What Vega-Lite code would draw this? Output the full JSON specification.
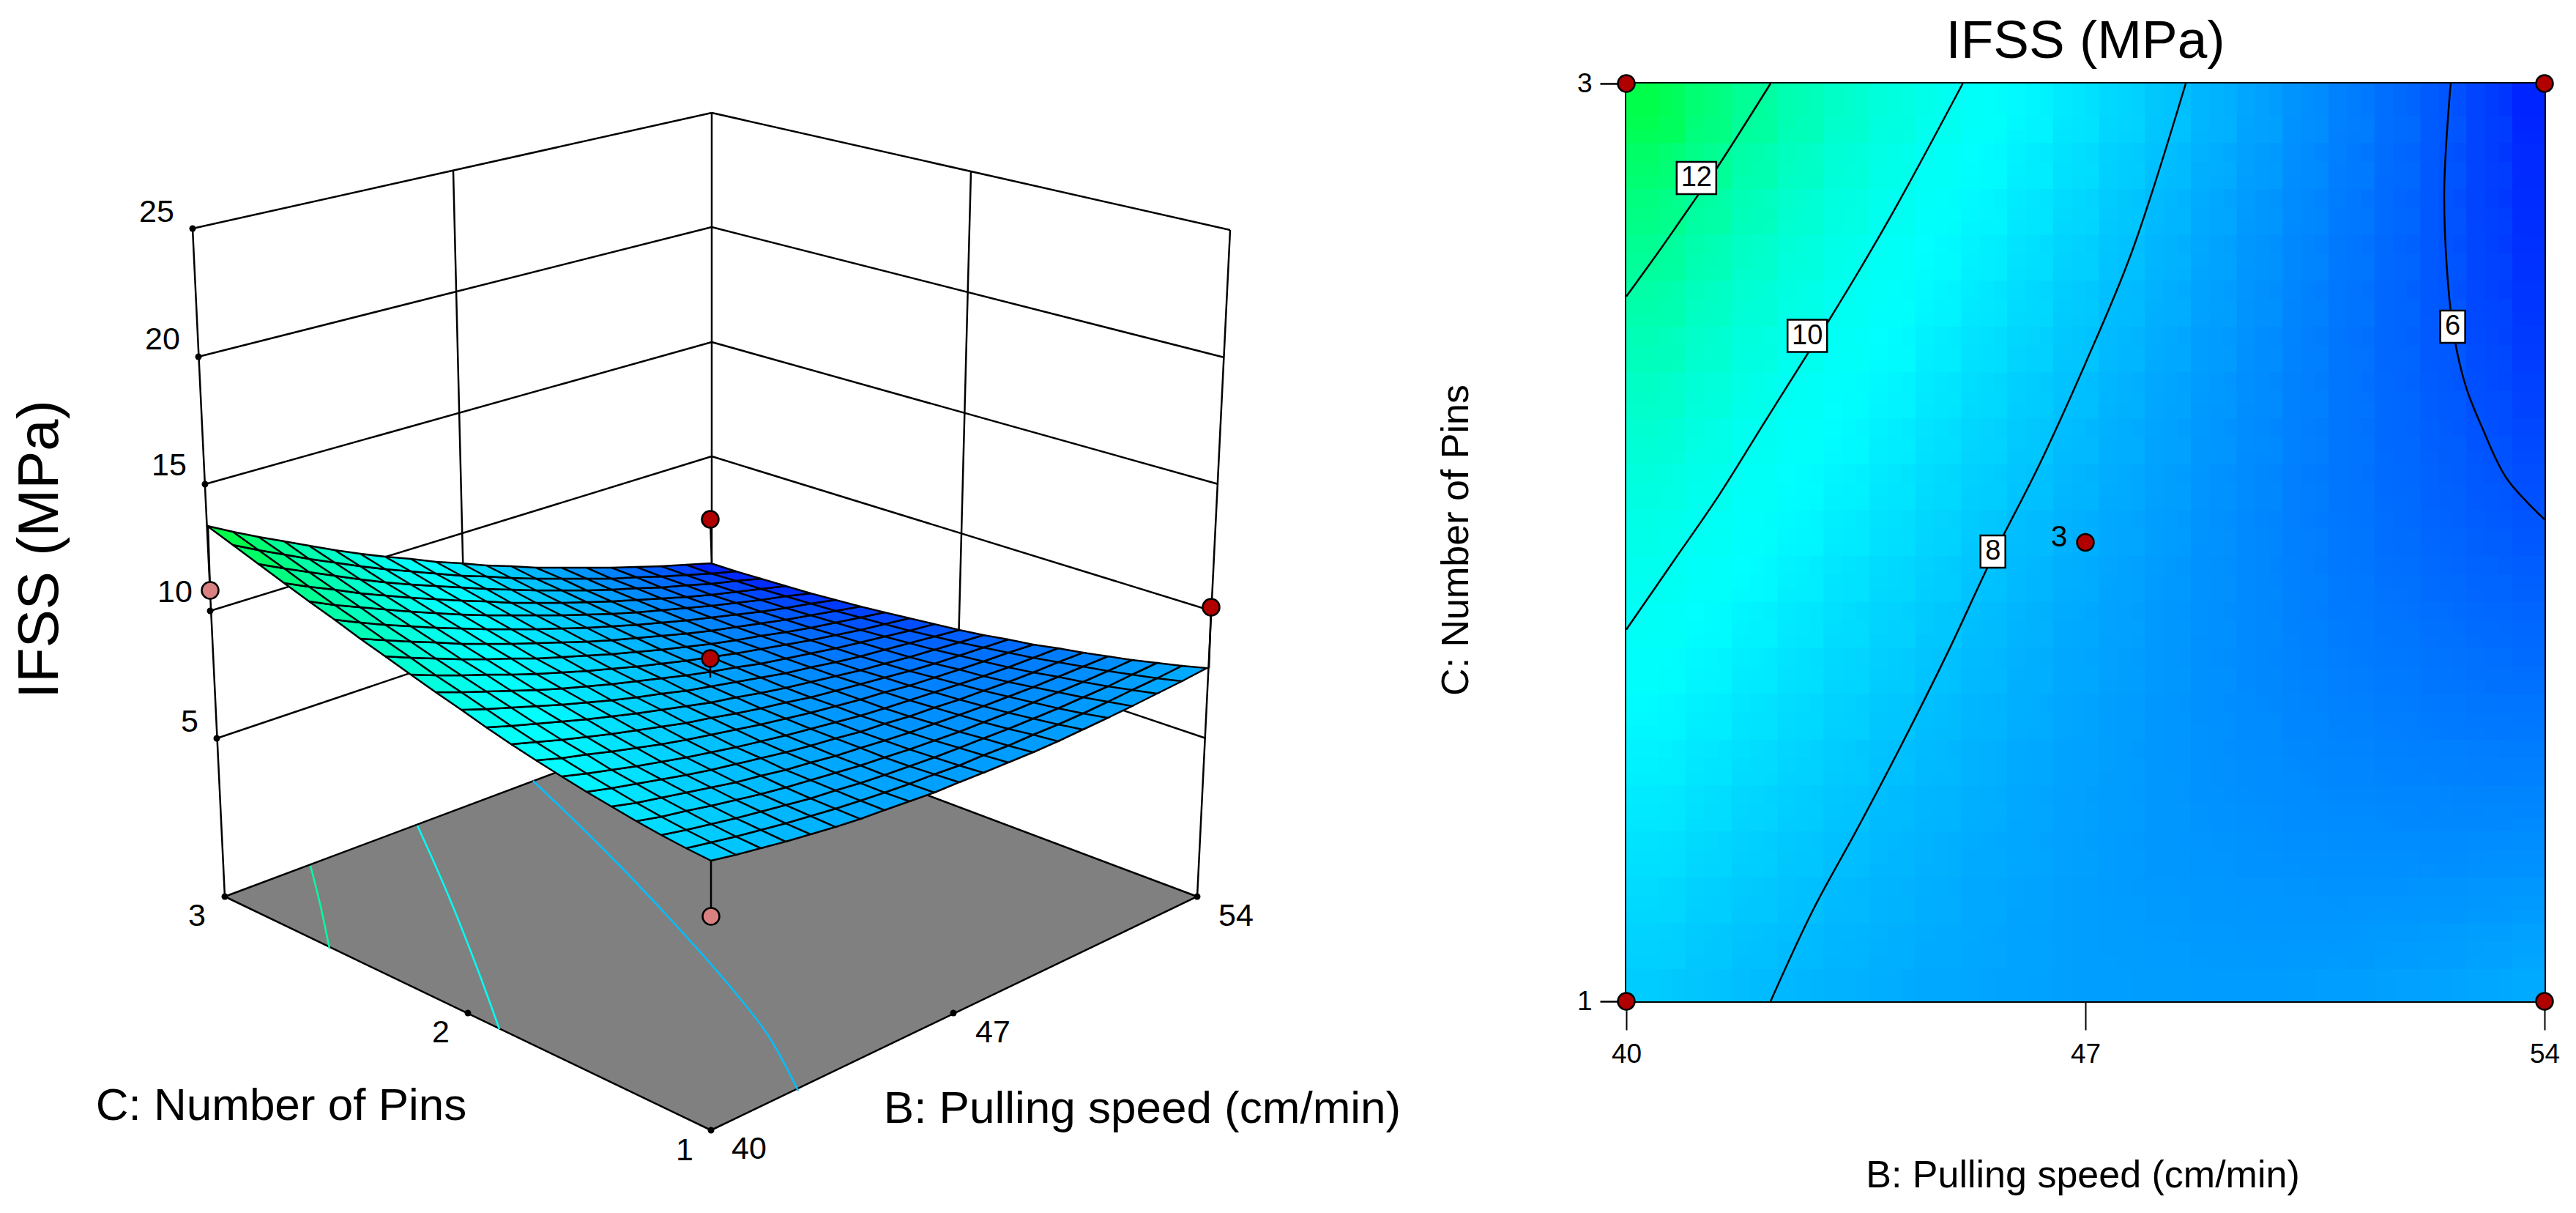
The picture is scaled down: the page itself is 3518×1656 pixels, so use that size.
{"$schema":"https://vega.github.io/schema/vega-lite/v6.json","background":"white","padding":0,"bounds":"flush","spacing":221,
"config":{"font":"Liberation Sans","view":{"stroke":null}},
"datasets":{"cells":[
{"b":53.65,"c":1.05,"v":7.55,"x":[1614,1648,1614,1580],"y":[930,912,909,926]},
{"b":53.65,"c":1.15,"v":7.36,"x":[1580,1614,1580,1546],"y":[926,909,905,921]},
{"b":53.65,"c":1.25,"v":7.17,"x":[1546,1580,1546,1513],"y":[921,905,901,916]},
{"b":53.65,"c":1.35,"v":7.0,"x":[1513,1546,1513,1479],"y":[916,901,896,910]},
{"b":53.65,"c":1.45,"v":6.83,"x":[1479,1513,1479,1445],"y":[910,896,891,904]},
{"b":53.65,"c":1.55,"v":6.68,"x":[1445,1479,1445,1411],"y":[904,891,885,898]},
{"b":53.65,"c":1.65,"v":6.53,"x":[1411,1445,1411,1377],"y":[898,885,880,891]},
{"b":53.65,"c":1.75,"v":6.39,"x":[1377,1411,1377,1343],"y":[891,880,873,884]},
{"b":53.65,"c":1.85,"v":6.27,"x":[1343,1377,1343,1310],"y":[884,873,867,877]},
{"b":53.65,"c":1.95,"v":6.15,"x":[1310,1343,1310,1276],"y":[877,867,860,869]},
{"b":53.65,"c":2.05,"v":6.05,"x":[1276,1310,1276,1242],"y":[869,860,852,861]},
{"b":53.65,"c":2.15,"v":5.95,"x":[1242,1276,1242,1208],"y":[861,852,844,852]},
{"b":53.65,"c":2.25,"v":5.87,"x":[1208,1242,1208,1175],"y":[852,844,836,843]},
{"b":53.65,"c":2.35,"v":5.79,"x":[1175,1208,1175,1141],"y":[843,836,828,834]},
{"b":53.65,"c":2.45,"v":5.72,"x":[1141,1175,1141,1107],"y":[834,828,819,824]},
{"b":53.65,"c":2.55,"v":5.67,"x":[1107,1141,1107,1073],"y":[824,819,810,814]},
{"b":53.65,"c":2.65,"v":5.63,"x":[1073,1107,1073,1039],"y":[814,810,800,804]},
{"b":53.65,"c":2.75,"v":5.6,"x":[1039,1073,1039,1005],"y":[804,800,790,793]},
{"b":53.65,"c":2.85,"v":5.58,"x":[1005,1039,1005,971],"y":[793,790,780,783]},
{"b":53.65,"c":2.95,"v":5.54,"x":[971,1005,971,937],"y":[783,780,769,771]},
{"b":52.95,"c":1.05,"v":7.47,"x":[1580,1614,1580,1546],"y":[947,930,926,942]},
{"b":52.95,"c":1.15,"v":7.3,"x":[1546,1580,1546,1513],"y":[942,926,921,937]},
{"b":52.95,"c":1.25,"v":7.13,"x":[1513,1546,1513,1479],"y":[937,921,916,931]},
{"b":52.95,"c":1.35,"v":6.97,"x":[1479,1513,1479,1445],"y":[931,916,910,924]},
{"b":52.95,"c":1.45,"v":6.83,"x":[1445,1479,1445,1411],"y":[924,910,904,918]},
{"b":52.95,"c":1.55,"v":6.69,"x":[1411,1445,1411,1377],"y":[918,904,898,911]},
{"b":52.95,"c":1.65,"v":6.56,"x":[1377,1411,1377,1343],"y":[911,898,891,903]},
{"b":52.95,"c":1.75,"v":6.45,"x":[1343,1377,1343,1310],"y":[903,891,884,895]},
{"b":52.95,"c":1.85,"v":6.34,"x":[1310,1343,1310,1276],"y":[895,884,877,887]},
{"b":52.95,"c":1.95,"v":6.24,"x":[1276,1310,1276,1242],"y":[887,877,869,878]},
{"b":52.95,"c":2.05,"v":6.16,"x":[1242,1276,1242,1208],"y":[878,869,861,869]},
{"b":52.95,"c":2.15,"v":6.08,"x":[1208,1242,1208,1175],"y":[869,861,852,860]},
{"b":52.95,"c":2.25,"v":6.01,"x":[1175,1208,1175,1141],"y":[860,852,843,850]},
{"b":52.95,"c":2.35,"v":5.96,"x":[1141,1175,1141,1107],"y":[850,843,834,840]},
{"b":52.95,"c":2.45,"v":5.91,"x":[1107,1141,1107,1073],"y":[840,834,824,830]},
{"b":52.95,"c":2.55,"v":5.87,"x":[1073,1107,1073,1039],"y":[830,824,814,819]},
{"b":52.95,"c":2.65,"v":5.85,"x":[1039,1073,1039,1005],"y":[819,814,804,808]},
{"b":52.95,"c":2.75,"v":5.83,"x":[1005,1039,1005,971],"y":[808,804,793,797]},
{"b":52.95,"c":2.85,"v":5.83,"x":[971,1005,971,937],"y":[797,793,783,785]},
{"b":52.95,"c":2.95,"v":5.83,"x":[937,971,937,903],"y":[785,783,771,773]},
{"b":52.25,"c":1.05,"v":7.41,"x":[1546,1580,1546,1513],"y":[964,947,942,958]},
{"b":52.25,"c":1.15,"v":7.25,"x":[1513,1546,1513,1479],"y":[958,942,937,952]},
{"b":52.25,"c":1.25,"v":7.1,"x":[1479,1513,1479,1445],"y":[952,937,931,945]},
{"b":52.25,"c":1.35,"v":6.96,"x":[1445,1479,1445,1411],"y":[945,931,924,938]},
{"b":52.25,"c":1.45,"v":6.84,"x":[1411,1445,1411,1377],"y":[938,924,918,931]},
{"b":52.25,"c":1.55,"v":6.72,"x":[1377,1411,1377,1343],"y":[931,918,911,923]},
{"b":52.25,"c":1.65,"v":6.61,"x":[1343,1377,1343,1310],"y":[923,911,903,914]},
{"b":52.25,"c":1.75,"v":6.52,"x":[1310,1343,1310,1276],"y":[914,903,895,906]},
{"b":52.25,"c":1.85,"v":6.43,"x":[1276,1310,1276,1242],"y":[906,895,887,897]},
{"b":52.25,"c":1.95,"v":6.35,"x":[1242,1276,1242,1208],"y":[897,887,878,887]},
{"b":52.25,"c":2.05,"v":6.28,"x":[1208,1242,1208,1175],"y":[887,878,869,877]},
{"b":52.25,"c":2.15,"v":6.23,"x":[1175,1208,1175,1141],"y":[877,869,860,867]},
{"b":52.25,"c":2.25,"v":6.18,"x":[1141,1175,1141,1107],"y":[867,860,850,857]},
{"b":52.25,"c":2.35,"v":6.14,"x":[1107,1141,1107,1073],"y":[857,850,840,846]},
{"b":52.25,"c":2.45,"v":6.11,"x":[1073,1107,1073,1039],"y":[846,840,830,835]},
{"b":52.25,"c":2.55,"v":6.1,"x":[1039,1073,1039,1005],"y":[835,830,819,823]},
{"b":52.25,"c":2.65,"v":6.09,"x":[1005,1039,1005,971],"y":[823,819,808,812]},
{"b":52.25,"c":2.75,"v":6.09,"x":[971,1005,971,937],"y":[812,808,797,799]},
{"b":52.25,"c":2.85,"v":6.11,"x":[937,971,937,903],"y":[799,797,785,787]},
{"b":52.25,"c":2.95,"v":6.13,"x":[903,937,903,869],"y":[787,785,773,774]},
{"b":51.55,"c":1.05,"v":7.35,"x":[1513,1546,1513,1479],"y":[980,964,958,974]},
{"b":51.55,"c":1.15,"v":7.22,"x":[1479,1513,1479,1445],"y":[974,958,952,967]},
{"b":51.55,"c":1.25,"v":7.09,"x":[1445,1479,1445,1411],"y":[967,952,945,959]},
{"b":51.55,"c":1.35,"v":6.97,"x":[1411,1445,1411,1377],"y":[959,945,938,951]},
{"b":51.55,"c":1.45,"v":6.86,"x":[1377,1411,1377,1343],"y":[951,938,931,943]},
{"b":51.55,"c":1.55,"v":6.76,"x":[1343,1377,1343,1310],"y":[943,931,923,934]},
{"b":51.55,"c":1.65,"v":6.68,"x":[1310,1343,1310,1276],"y":[934,923,914,925]},
{"b":51.55,"c":1.75,"v":6.6,"x":[1276,1310,1276,1242],"y":[925,914,906,916]},
{"b":51.55,"c":1.85,"v":6.53,"x":[1242,1276,1242,1208],"y":[916,906,897,906]},
{"b":51.55,"c":1.95,"v":6.47,"x":[1208,1242,1208,1175],"y":[906,897,887,896]},
{"b":51.55,"c":2.05,"v":6.42,"x":[1175,1208,1175,1141],"y":[896,887,877,885]},
{"b":51.55,"c":2.15,"v":6.39,"x":[1141,1175,1141,1107],"y":[885,877,867,874]},
{"b":51.55,"c":2.25,"v":6.36,"x":[1107,1141,1107,1073],"y":[874,867,857,863]},
{"b":51.55,"c":2.35,"v":6.34,"x":[1073,1107,1073,1039],"y":[863,857,846,851]},
{"b":51.55,"c":2.45,"v":6.33,"x":[1039,1073,1039,1005],"y":[851,846,835,839]},
{"b":51.55,"c":2.55,"v":6.33,"x":[1005,1039,1005,971],"y":[839,835,823,827]},
{"b":51.55,"c":2.65,"v":6.35,"x":[971,1005,971,937],"y":[827,823,812,815]},
{"b":51.55,"c":2.75,"v":6.37,"x":[937,971,937,903],"y":[815,812,799,802]},
{"b":51.55,"c":2.85,"v":6.4,"x":[903,937,903,869],"y":[802,799,787,788]},
{"b":51.55,"c":2.95,"v":6.44,"x":[869,903,869,835],"y":[788,787,774,775]},
{"b":50.85,"c":1.05,"v":7.31,"x":[1479,1513,1479,1445],"y":[996,980,974,989]},
{"b":50.85,"c":1.15,"v":7.19,"x":[1445,1479,1445,1411],"y":[989,974,967,981]},
{"b":50.85,"c":1.25,"v":7.09,"x":[1411,1445,1411,1377],"y":[981,967,959,973]},
{"b":50.85,"c":1.35,"v":6.99,"x":[1377,1411,1377,1343],"y":[973,959,951,964]},
{"b":50.85,"c":1.45,"v":6.9,"x":[1343,1377,1343,1310],"y":[964,951,943,955]},
{"b":50.85,"c":1.55,"v":6.82,"x":[1310,1343,1310,1276],"y":[955,943,934,945]},
{"b":50.85,"c":1.65,"v":6.75,"x":[1276,1310,1276,1242],"y":[945,934,925,936]},
{"b":50.85,"c":1.75,"v":6.69,"x":[1242,1276,1242,1208],"y":[936,925,916,925]},
{"b":50.85,"c":1.85,"v":6.64,"x":[1208,1242,1208,1175],"y":[925,916,906,915]},
{"b":50.85,"c":1.95,"v":6.6,"x":[1175,1208,1175,1141],"y":[915,906,896,904]},
{"b":50.85,"c":2.05,"v":6.58,"x":[1141,1175,1141,1107],"y":[904,896,885,892]},
{"b":50.85,"c":2.15,"v":6.56,"x":[1107,1141,1107,1073],"y":[892,885,874,880]},
{"b":50.85,"c":2.25,"v":6.55,"x":[1073,1107,1073,1039],"y":[880,874,863,868]},
{"b":50.85,"c":2.35,"v":6.55,"x":[1039,1073,1039,1005],"y":[868,863,851,856]},
{"b":50.85,"c":2.45,"v":6.56,"x":[1005,1039,1005,971],"y":[856,851,839,843]},
{"b":50.85,"c":2.55,"v":6.58,"x":[971,1005,971,937],"y":[843,839,827,830]},
{"b":50.85,"c":2.65,"v":6.61,"x":[937,971,937,903],"y":[830,827,815,817]},
{"b":50.85,"c":2.75,"v":6.66,"x":[903,937,903,869],"y":[817,815,802,803]},
{"b":50.85,"c":2.85,"v":6.71,"x":[869,903,869,835],"y":[803,802,788,790]},
{"b":50.85,"c":2.95,"v":6.77,"x":[835,869,835,801],"y":[790,788,775,775]},
{"b":50.15,"c":1.05,"v":7.29,"x":[1445,1479,1445,1411],"y":[1012,996,989,1003]},
{"b":50.15,"c":1.15,"v":7.19,"x":[1411,1445,1411,1377],"y":[1003,989,981,995]},
{"b":50.15,"c":1.25,"v":7.1,"x":[1377,1411,1377,1343],"y":[995,981,973,986]},
{"b":50.15,"c":1.35,"v":7.02,"x":[1343,1377,1343,1310],"y":[986,973,964,976]},
{"b":50.15,"c":1.45,"v":6.95,"x":[1310,1343,1310,1276],"y":[976,964,955,966]},
{"b":50.15,"c":1.55,"v":6.89,"x":[1276,1310,1276,1242],"y":[966,955,945,956]},
{"b":50.15,"c":1.65,"v":6.84,"x":[1242,1276,1242,1208],"y":[956,945,936,945]},
{"b":50.15,"c":1.75,"v":6.8,"x":[1208,1242,1208,1175],"y":[945,936,925,934]},
{"b":50.15,"c":1.85,"v":6.77,"x":[1175,1208,1175,1141],"y":[934,925,915,923]},
{"b":50.15,"c":1.95,"v":6.75,"x":[1141,1175,1141,1107],"y":[923,915,904,911]},
{"b":50.15,"c":2.05,"v":6.74,"x":[1107,1141,1107,1073],"y":[911,904,892,899]},
{"b":50.15,"c":2.15,"v":6.74,"x":[1073,1107,1073,1039],"y":[899,892,880,886]},
{"b":50.15,"c":2.25,"v":6.75,"x":[1039,1073,1039,1005],"y":[886,880,868,874]},
{"b":50.15,"c":2.35,"v":6.77,"x":[1005,1039,1005,971],"y":[874,868,856,861]},
{"b":50.15,"c":2.45,"v":6.8,"x":[971,1005,971,937],"y":[861,856,843,847]},
{"b":50.15,"c":2.55,"v":6.84,"x":[937,971,937,903],"y":[847,843,830,833]},
{"b":50.15,"c":2.65,"v":6.89,"x":[903,937,903,869],"y":[833,830,817,819]},
{"b":50.15,"c":2.75,"v":6.96,"x":[869,903,869,835],"y":[819,817,803,805]},
{"b":50.15,"c":2.85,"v":7.03,"x":[835,869,835,801],"y":[805,803,790,790]},
{"b":50.15,"c":2.95,"v":7.11,"x":[801,835,801,767],"y":[790,790,775,775]},
{"b":49.45,"c":1.05,"v":7.27,"x":[1411,1445,1411,1377],"y":[1027,1012,1003,1018]},
{"b":49.45,"c":1.15,"v":7.19,"x":[1377,1411,1377,1343],"y":[1018,1003,995,1008]},
{"b":49.45,"c":1.25,"v":7.12,"x":[1343,1377,1343,1310],"y":[1008,995,986,999]},
{"b":49.45,"c":1.35,"v":7.06,"x":[1310,1343,1310,1276],"y":[999,986,976,988]},
{"b":49.45,"c":1.45,"v":7.01,"x":[1276,1310,1276,1242],"y":[988,976,966,978]},
{"b":49.45,"c":1.55,"v":6.97,"x":[1242,1276,1242,1208],"y":[978,966,956,967]},
{"b":49.45,"c":1.65,"v":6.94,"x":[1208,1242,1208,1175],"y":[967,956,945,955]},
{"b":49.45,"c":1.75,"v":6.92,"x":[1175,1208,1175,1141],"y":[955,945,934,943]},
{"b":49.45,"c":1.85,"v":6.91,"x":[1141,1175,1141,1107],"y":[943,934,923,931]},
{"b":49.45,"c":1.95,"v":6.91,"x":[1107,1141,1107,1073],"y":[931,923,911,919]},
{"b":49.45,"c":2.05,"v":6.92,"x":[1073,1107,1073,1039],"y":[919,911,899,906]},
{"b":49.45,"c":2.15,"v":6.94,"x":[1039,1073,1039,1005],"y":[906,899,886,892]},
{"b":49.45,"c":2.25,"v":6.97,"x":[1005,1039,1005,971],"y":[892,886,874,879]},
{"b":49.45,"c":2.35,"v":7.01,"x":[971,1005,971,937],"y":[879,874,861,865]},
{"b":49.45,"c":2.45,"v":7.06,"x":[937,971,937,903],"y":[865,861,847,850]},
{"b":49.45,"c":2.55,"v":7.12,"x":[903,937,903,869],"y":[850,847,833,836]},
{"b":49.45,"c":2.65,"v":7.19,"x":[869,903,869,835],"y":[836,833,819,821]},
{"b":49.45,"c":2.75,"v":7.27,"x":[835,869,835,801],"y":[821,819,805,806]},
{"b":49.45,"c":2.85,"v":7.36,"x":[801,835,801,767],"y":[806,805,790,790]},
{"b":49.45,"c":2.95,"v":7.46,"x":[767,801,767,732],"y":[790,790,775,775]},
{"b":48.75,"c":1.05,"v":7.27,"x":[1377,1411,1377,1343],"y":[1041,1027,1018,1031]},
{"b":48.75,"c":1.15,"v":7.21,"x":[1343,1377,1343,1310],"y":[1031,1018,1008,1021]},
{"b":48.75,"c":1.25,"v":7.16,"x":[1310,1343,1310,1276],"y":[1021,1008,999,1011]},
{"b":48.75,"c":1.35,"v":7.12,"x":[1276,1310,1276,1242],"y":[1011,999,988,1000]},
{"b":48.75,"c":1.45,"v":7.09,"x":[1242,1276,1242,1208],"y":[1000,988,978,988]},
{"b":48.75,"c":1.55,"v":7.07,"x":[1208,1242,1208,1175],"y":[988,978,967,977]},
{"b":48.75,"c":1.65,"v":7.05,"x":[1175,1208,1175,1141],"y":[977,967,955,964]},
{"b":48.75,"c":1.75,"v":7.05,"x":[1141,1175,1141,1107],"y":[964,955,943,952]},
{"b":48.75,"c":1.85,"v":7.06,"x":[1107,1141,1107,1073],"y":[952,943,931,939]},
{"b":48.75,"c":1.95,"v":7.08,"x":[1073,1107,1073,1039],"y":[939,931,919,925]},
{"b":48.75,"c":2.05,"v":7.11,"x":[1039,1073,1039,1005],"y":[925,919,906,911]},
{"b":48.75,"c":2.15,"v":7.15,"x":[1005,1039,1005,971],"y":[911,906,892,897]},
{"b":48.75,"c":2.25,"v":7.2,"x":[971,1005,971,937],"y":[897,892,879,883]},
{"b":48.75,"c":2.35,"v":7.26,"x":[937,971,937,903],"y":[883,879,865,868]},
{"b":48.75,"c":2.45,"v":7.33,"x":[903,937,903,869],"y":[868,865,850,853]},
{"b":48.75,"c":2.55,"v":7.41,"x":[869,903,869,835],"y":[853,850,836,838]},
{"b":48.75,"c":2.65,"v":7.5,"x":[835,869,835,801],"y":[838,836,821,822]},
{"b":48.75,"c":2.75,"v":7.6,"x":[801,835,801,767],"y":[822,821,806,806]},
{"b":48.75,"c":2.85,"v":7.71,"x":[767,801,767,732],"y":[806,806,790,790]},
{"b":48.75,"c":2.95,"v":7.82,"x":[732,767,732,698],"y":[790,790,775,773]},
{"b":48.05,"c":1.05,"v":7.28,"x":[1343,1377,1343,1310],"y":[1055,1041,1031,1045]},
{"b":48.05,"c":1.15,"v":7.24,"x":[1310,1343,1310,1276],"y":[1045,1031,1021,1034]},
{"b":48.05,"c":1.25,"v":7.21,"x":[1276,1310,1276,1242],"y":[1034,1021,1011,1023]},
{"b":48.05,"c":1.35,"v":7.19,"x":[1242,1276,1242,1208],"y":[1023,1011,1000,1011]},
{"b":48.05,"c":1.45,"v":7.18,"x":[1208,1242,1208,1175],"y":[1011,1000,988,999]},
{"b":48.05,"c":1.55,"v":7.17,"x":[1175,1208,1175,1141],"y":[999,988,977,986]},
{"b":48.05,"c":1.65,"v":7.18,"x":[1141,1175,1141,1107],"y":[986,977,964,973]},
{"b":48.05,"c":1.75,"v":7.2,"x":[1107,1141,1107,1073],"y":[973,964,952,959]},
{"b":48.05,"c":1.85,"v":7.23,"x":[1073,1107,1073,1039],"y":[959,952,939,946]},
{"b":48.05,"c":1.95,"v":7.27,"x":[1039,1073,1039,1005],"y":[946,939,925,931]},
{"b":48.05,"c":2.05,"v":7.32,"x":[1005,1039,1005,971],"y":[931,925,911,917]},
{"b":48.05,"c":2.15,"v":7.38,"x":[971,1005,971,937],"y":[917,911,897,902]},
{"b":48.05,"c":2.25,"v":7.44,"x":[937,971,937,903],"y":[902,897,883,887]},
{"b":48.05,"c":2.35,"v":7.52,"x":[903,937,903,869],"y":[887,883,868,871]},
{"b":48.05,"c":2.45,"v":7.61,"x":[869,903,869,835],"y":[871,868,853,855]},
{"b":48.05,"c":2.55,"v":7.71,"x":[835,869,835,801],"y":[855,853,838,839]},
{"b":48.05,"c":2.65,"v":7.82,"x":[801,835,801,767],"y":[839,838,822,823]},
{"b":48.05,"c":2.75,"v":7.94,"x":[767,801,767,732],"y":[823,822,806,806]},
{"b":48.05,"c":2.85,"v":8.07,"x":[732,767,732,698],"y":[806,806,790,789]},
{"b":48.05,"c":2.95,"v":8.2,"x":[698,732,698,664],"y":[789,790,773,772]},
{"b":47.35,"c":1.05,"v":7.31,"x":[1310,1343,1310,1276],"y":[1068,1055,1045,1057]},
{"b":47.35,"c":1.15,"v":7.29,"x":[1276,1310,1276,1242],"y":[1057,1045,1034,1046]},
{"b":47.35,"c":1.25,"v":7.27,"x":[1242,1276,1242,1208],"y":[1046,1034,1023,1034]},
{"b":47.35,"c":1.35,"v":7.27,"x":[1208,1242,1208,1175],"y":[1034,1023,1011,1021]},
{"b":47.35,"c":1.45,"v":7.28,"x":[1175,1208,1175,1141],"y":[1021,1011,999,1008]},
{"b":47.35,"c":1.55,"v":7.3,"x":[1141,1175,1141,1107],"y":[1008,999,986,995]},
{"b":47.35,"c":1.65,"v":7.32,"x":[1107,1141,1107,1073],"y":[995,986,973,981]},
{"b":47.35,"c":1.75,"v":7.36,"x":[1073,1107,1073,1039],"y":[981,973,959,967]},
{"b":47.35,"c":1.85,"v":7.41,"x":[1039,1073,1039,1005],"y":[967,959,946,952]},
{"b":47.35,"c":1.95,"v":7.47,"x":[1005,1039,1005,971],"y":[952,946,931,937]},
{"b":47.35,"c":2.05,"v":7.54,"x":[971,1005,971,937],"y":[937,931,917,922]},
{"b":47.35,"c":2.15,"v":7.61,"x":[937,971,937,903],"y":[922,917,902,906]},
{"b":47.35,"c":2.25,"v":7.7,"x":[903,937,903,869],"y":[906,902,887,890]},
{"b":47.35,"c":2.35,"v":7.8,"x":[869,903,869,835],"y":[890,887,871,874]},
{"b":47.35,"c":2.45,"v":7.91,"x":[835,869,835,801],"y":[874,871,855,857]},
{"b":47.35,"c":2.55,"v":8.03,"x":[801,835,801,767],"y":[857,855,839,840]},
{"b":47.35,"c":2.65,"v":8.15,"x":[767,801,767,732],"y":[840,839,823,823]},
{"b":47.35,"c":2.75,"v":8.29,"x":[732,767,732,698],"y":[823,823,806,805]},
{"b":47.35,"c":2.85,"v":8.44,"x":[698,732,698,664],"y":[805,806,789,787]},
{"b":47.35,"c":2.95,"v":8.6,"x":[664,698,664,630],"y":[787,789,772,769]},
{"b":46.65,"c":1.05,"v":7.35,"x":[1276,1310,1276,1242],"y":[1082,1068,1057,1070]},
{"b":46.65,"c":1.15,"v":7.34,"x":[1242,1276,1242,1208],"y":[1070,1057,1046,1058]},
{"b":46.65,"c":1.25,"v":7.35,"x":[1208,1242,1208,1175],"y":[1058,1046,1034,1045]},
{"b":46.65,"c":1.35,"v":7.37,"x":[1175,1208,1175,1141],"y":[1045,1034,1021,1032]},
{"b":46.65,"c":1.45,"v":7.39,"x":[1141,1175,1141,1107],"y":[1032,1021,1008,1018]},
{"b":46.65,"c":1.55,"v":7.43,"x":[1107,1141,1107,1073],"y":[1018,1008,995,1004]},
{"b":46.65,"c":1.65,"v":7.48,"x":[1073,1107,1073,1039],"y":[1004,995,981,989]},
{"b":46.65,"c":1.75,"v":7.54,"x":[1039,1073,1039,1005],"y":[989,981,967,974]},
{"b":46.65,"c":1.85,"v":7.6,"x":[1005,1039,1005,971],"y":[974,967,952,959]},
{"b":46.65,"c":1.95,"v":7.68,"x":[971,1005,971,937],"y":[959,952,937,943]},
{"b":46.65,"c":2.05,"v":7.77,"x":[937,971,937,903],"y":[943,937,922,926]},
{"b":46.65,"c":2.15,"v":7.87,"x":[903,937,903,869],"y":[926,922,906,910]},
{"b":46.65,"c":2.25,"v":7.97,"x":[869,903,869,835],"y":[910,906,890,893]},
{"b":46.65,"c":2.35,"v":8.09,"x":[835,869,835,801],"y":[893,890,874,876]},
{"b":46.65,"c":2.45,"v":8.22,"x":[801,835,801,767],"y":[876,874,857,858]},
{"b":46.65,"c":2.55,"v":8.35,"x":[767,801,767,732],"y":[858,857,840,840]},
{"b":46.65,"c":2.65,"v":8.5,"x":[732,767,732,698],"y":[840,840,823,823]},
{"b":46.65,"c":2.75,"v":8.66,"x":[698,732,698,664],"y":[823,823,805,804]},
{"b":46.65,"c":2.85,"v":8.83,"x":[664,698,664,630],"y":[804,805,787,786]},
{"b":46.65,"c":2.95,"v":9.0,"x":[630,664,630,595],"y":[786,787,769,767]},
{"b":45.95,"c":1.05,"v":7.4,"x":[1242,1276,1242,1208],"y":[1094,1082,1070,1082]},
{"b":45.95,"c":1.15,"v":7.41,"x":[1208,1242,1208,1175],"y":[1082,1070,1058,1069]},
{"b":45.95,"c":1.25,"v":7.44,"x":[1175,1208,1175,1141],"y":[1069,1058,1045,1055]},
{"b":45.95,"c":1.35,"v":7.48,"x":[1141,1175,1141,1107],"y":[1055,1045,1032,1041]},
{"b":45.95,"c":1.45,"v":7.52,"x":[1107,1141,1107,1073],"y":[1041,1032,1018,1027]},
{"b":45.95,"c":1.55,"v":7.58,"x":[1073,1107,1073,1039],"y":[1027,1018,1004,1012]},
{"b":45.95,"c":1.65,"v":7.65,"x":[1039,1073,1039,1005],"y":[1012,1004,989,996]},
{"b":45.95,"c":1.75,"v":7.72,"x":[1005,1039,1005,971],"y":[996,989,974,980]},
{"b":45.95,"c":1.85,"v":7.81,"x":[971,1005,971,937],"y":[980,974,959,964]},
{"b":45.95,"c":1.95,"v":7.91,"x":[937,971,937,903],"y":[964,959,943,947]},
{"b":45.95,"c":2.05,"v":8.01,"x":[903,937,903,869],"y":[947,943,926,930]},
{"b":45.95,"c":2.15,"v":8.13,"x":[869,903,869,835],"y":[930,926,910,913]},
{"b":45.95,"c":2.25,"v":8.26,"x":[835,869,835,801],"y":[913,910,893,895]},
{"b":45.95,"c":2.35,"v":8.39,"x":[801,835,801,767],"y":[895,893,876,877]},
{"b":45.95,"c":2.45,"v":8.54,"x":[767,801,767,732],"y":[877,876,858,859]},
{"b":45.95,"c":2.55,"v":8.7,"x":[732,767,732,698],"y":[859,858,840,840]},
{"b":45.95,"c":2.65,"v":8.86,"x":[698,732,698,664],"y":[840,840,823,821]},
{"b":45.95,"c":2.75,"v":9.04,"x":[664,698,664,630],"y":[821,823,804,802]},
{"b":45.95,"c":2.85,"v":9.22,"x":[630,664,630,595],"y":[802,804,786,783]},
{"b":45.95,"c":2.95,"v":9.42,"x":[595,630,595,561],"y":[783,786,767,763]},
{"b":45.25,"c":1.05,"v":7.46,"x":[1208,1242,1208,1175],"y":[1106,1094,1082,1093]},
{"b":45.25,"c":1.15,"v":7.5,"x":[1175,1208,1175,1141],"y":[1093,1082,1069,1079]},
{"b":45.25,"c":1.25,"v":7.54,"x":[1141,1175,1141,1107],"y":[1079,1069,1055,1065]},
{"b":45.25,"c":1.35,"v":7.6,"x":[1107,1141,1107,1073],"y":[1065,1055,1041,1051]},
{"b":45.25,"c":1.45,"v":7.67,"x":[1073,1107,1073,1039],"y":[1051,1041,1027,1035]},
{"b":45.25,"c":1.55,"v":7.74,"x":[1039,1073,1039,1005],"y":[1035,1027,1012,1020]},
{"b":45.25,"c":1.65,"v":7.83,"x":[1005,1039,1005,971],"y":[1020,1012,996,1003]},
{"b":45.25,"c":1.75,"v":7.92,"x":[971,1005,971,937],"y":[1003,996,980,987]},
{"b":45.25,"c":1.85,"v":8.03,"x":[937,971,937,903],"y":[987,980,964,969]},
{"b":45.25,"c":1.95,"v":8.14,"x":[903,937,903,869],"y":[969,964,947,952]},
{"b":45.25,"c":2.05,"v":8.27,"x":[869,903,869,835],"y":[952,947,930,934]},
{"b":45.25,"c":2.15,"v":8.41,"x":[835,869,835,801],"y":[934,930,913,916]},
{"b":45.25,"c":2.25,"v":8.55,"x":[801,835,801,767],"y":[916,913,895,897]},
{"b":45.25,"c":2.35,"v":8.71,"x":[767,801,767,732],"y":[897,895,877,878]},
{"b":45.25,"c":2.45,"v":8.87,"x":[732,767,732,698],"y":[878,877,859,859]},
{"b":45.25,"c":2.55,"v":9.05,"x":[698,732,698,664],"y":[859,859,840,840]},
{"b":45.25,"c":2.65,"v":9.24,"x":[664,698,664,630],"y":[840,840,821,820]},
{"b":45.25,"c":2.75,"v":9.43,"x":[630,664,630,595],"y":[820,821,802,800]},
{"b":45.25,"c":2.85,"v":9.64,"x":[595,630,595,561],"y":[800,802,783,780]},
{"b":45.25,"c":2.95,"v":9.85,"x":[561,595,561,526],"y":[780,783,763,760]},
{"b":44.55,"c":1.05,"v":7.54,"x":[1175,1208,1175,1141],"y":[1118,1106,1093,1104]},
{"b":44.55,"c":1.15,"v":7.6,"x":[1141,1175,1141,1107],"y":[1104,1093,1079,1090]},
{"b":44.55,"c":1.25,"v":7.66,"x":[1107,1141,1107,1073],"y":[1090,1079,1065,1075]},
{"b":44.55,"c":1.35,"v":7.74,"x":[1073,1107,1073,1039],"y":[1075,1065,1051,1059]},
{"b":44.55,"c":1.45,"v":7.82,"x":[1039,1073,1039,1005],"y":[1059,1051,1035,1043]},
{"b":44.55,"c":1.55,"v":7.92,"x":[1005,1039,1005,971],"y":[1043,1035,1020,1027]},
{"b":44.55,"c":1.65,"v":8.02,"x":[971,1005,971,937],"y":[1027,1020,1003,1010]},
{"b":44.55,"c":1.75,"v":8.14,"x":[937,971,937,903],"y":[1010,1003,987,992]},
{"b":44.55,"c":1.85,"v":8.26,"x":[903,937,903,869],"y":[992,987,969,974]},
{"b":44.55,"c":1.95,"v":8.4,"x":[869,903,869,835],"y":[974,969,952,956]},
{"b":44.55,"c":2.05,"v":8.54,"x":[835,869,835,801],"y":[956,952,934,937]},
{"b":44.55,"c":2.15,"v":8.7,"x":[801,835,801,767],"y":[937,934,916,918]},
{"b":44.55,"c":2.25,"v":8.86,"x":[767,801,767,732],"y":[918,916,897,899]},
{"b":44.55,"c":2.35,"v":9.04,"x":[732,767,732,698],"y":[899,897,878,879]},
{"b":44.55,"c":2.45,"v":9.22,"x":[698,732,698,664],"y":[879,878,859,859]},
{"b":44.55,"c":2.55,"v":9.42,"x":[664,698,664,630],"y":[859,859,840,839]},
{"b":44.55,"c":2.65,"v":9.62,"x":[630,664,630,595],"y":[839,840,820,818]},
{"b":44.55,"c":2.75,"v":9.84,"x":[595,630,595,561],"y":[818,820,800,798]},
{"b":44.55,"c":2.85,"v":10.06,"x":[561,595,561,526],"y":[798,800,780,777]},
{"b":44.55,"c":2.95,"v":10.3,"x":[526,561,526,492],"y":[777,780,760,756]},
{"b":43.85,"c":1.05,"v":7.63,"x":[1141,1175,1141,1107],"y":[1129,1118,1104,1114]},
{"b":43.85,"c":1.15,"v":7.71,"x":[1107,1141,1107,1073],"y":[1114,1104,1090,1099]},
{"b":43.85,"c":1.25,"v":7.79,"x":[1073,1107,1073,1039],"y":[1099,1090,1075,1084]},
{"b":43.85,"c":1.35,"v":7.89,"x":[1039,1073,1039,1005],"y":[1084,1075,1059,1068]},
{"b":43.85,"c":1.45,"v":7.99,"x":[1005,1039,1005,971],"y":[1068,1059,1043,1051]},
{"b":43.85,"c":1.55,"v":8.1,"x":[971,1005,971,937],"y":[1051,1043,1027,1034]},
{"b":43.85,"c":1.65,"v":8.23,"x":[937,971,937,903],"y":[1034,1027,1010,1016]},
{"b":43.85,"c":1.75,"v":8.36,"x":[903,937,903,869],"y":[1016,1010,992,997]},
{"b":43.85,"c":1.85,"v":8.51,"x":[869,903,869,835],"y":[997,992,974,978]},
{"b":43.85,"c":1.95,"v":8.66,"x":[835,869,835,801],"y":[978,974,956,959]},
{"b":43.85,"c":2.05,"v":8.83,"x":[801,835,801,767],"y":[959,956,937,940]},
{"b":43.85,"c":2.15,"v":9.0,"x":[767,801,767,732],"y":[940,937,918,920]},
{"b":43.85,"c":2.25,"v":9.19,"x":[732,767,732,698],"y":[920,918,899,899]},
{"b":43.85,"c":2.35,"v":9.38,"x":[698,732,698,664],"y":[899,899,879,879]},
{"b":43.85,"c":2.45,"v":9.58,"x":[664,698,664,630],"y":[879,879,859,858]},
{"b":43.85,"c":2.55,"v":9.8,"x":[630,664,630,595],"y":[858,859,839,837]},
{"b":43.85,"c":2.65,"v":10.02,"x":[595,630,595,561],"y":[837,839,818,816]},
{"b":43.85,"c":2.75,"v":10.26,"x":[561,595,561,526],"y":[816,818,798,795]},
{"b":43.85,"c":2.85,"v":10.5,"x":[526,561,526,492],"y":[795,798,777,773]},
{"b":43.85,"c":2.95,"v":10.76,"x":[492,526,492,457],"y":[773,777,756,751]},
{"b":43.15,"c":1.05,"v":7.74,"x":[1107,1141,1107,1073],"y":[1139,1129,1114,1124]},
{"b":43.15,"c":1.15,"v":7.83,"x":[1073,1107,1073,1039],"y":[1124,1114,1099,1108]},
{"b":43.15,"c":1.25,"v":7.93,"x":[1039,1073,1039,1005],"y":[1108,1099,1084,1092]},
{"b":43.15,"c":1.35,"v":8.05,"x":[1005,1039,1005,971],"y":[1092,1084,1068,1075]},
{"b":43.15,"c":1.45,"v":8.17,"x":[971,1005,971,937],"y":[1075,1068,1051,1058]},
{"b":43.15,"c":1.55,"v":8.31,"x":[937,971,937,903],"y":[1058,1051,1034,1040]},
{"b":43.15,"c":1.65,"v":8.45,"x":[903,937,903,869],"y":[1040,1034,1016,1021]},
{"b":43.15,"c":1.75,"v":8.6,"x":[869,903,869,835],"y":[1021,1016,997,1002]},
{"b":43.15,"c":1.85,"v":8.77,"x":[835,869,835,801],"y":[1002,997,978,982]},
{"b":43.15,"c":1.95,"v":8.94,"x":[801,835,801,767],"y":[982,978,959,962]},
{"b":43.15,"c":2.05,"v":9.12,"x":[767,801,767,732],"y":[962,959,940,942]},
{"b":43.15,"c":2.15,"v":9.32,"x":[732,767,732,698],"y":[942,940,920,921]},
{"b":43.15,"c":2.25,"v":9.52,"x":[698,732,698,664],"y":[921,920,899,900]},
{"b":43.15,"c":2.35,"v":9.74,"x":[664,698,664,630],"y":[900,899,879,879]},
{"b":43.15,"c":2.45,"v":9.96,"x":[630,664,630,595],"y":[879,879,858,857]},
{"b":43.15,"c":2.55,"v":10.19,"x":[595,630,595,561],"y":[857,858,837,835]},
{"b":43.15,"c":2.65,"v":10.44,"x":[561,595,561,526],"y":[835,837,816,813]},
{"b":43.15,"c":2.75,"v":10.69,"x":[526,561,526,492],"y":[813,816,795,791]},
{"b":43.15,"c":2.85,"v":10.95,"x":[492,526,492,457],"y":[791,795,773,768]},
{"b":43.15,"c":2.95,"v":11.23,"x":[457,492,457,422],"y":[768,773,751,745]},
{"b":42.45,"c":1.05,"v":7.85,"x":[1073,1107,1073,1039],"y":[1149,1139,1124,1133]},
{"b":42.45,"c":1.15,"v":7.97,"x":[1039,1073,1039,1005],"y":[1133,1124,1108,1117]},
{"b":42.45,"c":1.25,"v":8.09,"x":[1005,1039,1005,971],"y":[1117,1108,1092,1100]},
{"b":42.45,"c":1.35,"v":8.22,"x":[971,1005,971,937],"y":[1100,1092,1075,1082]},
{"b":42.45,"c":1.45,"v":8.37,"x":[937,971,937,903],"y":[1082,1075,1058,1064]},
{"b":42.45,"c":1.55,"v":8.52,"x":[903,937,903,869],"y":[1064,1058,1040,1046]},
{"b":42.45,"c":1.65,"v":8.68,"x":[869,903,869,835],"y":[1046,1040,1021,1026]},
{"b":42.45,"c":1.75,"v":8.86,"x":[835,869,835,801],"y":[1026,1021,1002,1006]},
{"b":42.45,"c":1.85,"v":9.04,"x":[801,835,801,767],"y":[1006,1002,982,985]},
{"b":42.45,"c":1.95,"v":9.23,"x":[767,801,767,732],"y":[985,982,962,964]},
{"b":42.45,"c":2.05,"v":9.44,"x":[732,767,732,698],"y":[964,962,942,943]},
{"b":42.45,"c":2.15,"v":9.65,"x":[698,732,698,664],"y":[943,942,921,921]},
{"b":42.45,"c":2.25,"v":9.87,"x":[664,698,664,630],"y":[921,921,900,900]},
{"b":42.45,"c":2.35,"v":10.1,"x":[630,664,630,595],"y":[900,900,879,877]},
{"b":42.45,"c":2.45,"v":10.35,"x":[595,630,595,561],"y":[877,879,857,855]},
{"b":42.45,"c":2.55,"v":10.6,"x":[561,595,561,526],"y":[855,857,835,832]},
{"b":42.45,"c":2.65,"v":10.86,"x":[526,561,526,492],"y":[832,835,813,810]},
{"b":42.45,"c":2.75,"v":11.14,"x":[492,526,492,457],"y":[810,813,791,786]},
{"b":42.45,"c":2.85,"v":11.42,"x":[457,492,457,422],"y":[786,791,768,763]},
{"b":42.45,"c":2.95,"v":11.71,"x":[422,457,422,388],"y":[763,768,745,739]},
{"b":41.75,"c":1.05,"v":7.99,"x":[1039,1073,1039,1005],"y":[1158,1149,1133,1142]},
{"b":41.75,"c":1.15,"v":8.12,"x":[1005,1039,1005,971],"y":[1142,1133,1117,1125]},
{"b":41.75,"c":1.25,"v":8.26,"x":[971,1005,971,937],"y":[1125,1117,1100,1107]},
{"b":41.75,"c":1.35,"v":8.41,"x":[937,971,937,903],"y":[1107,1100,1082,1089]},
{"b":41.75,"c":1.45,"v":8.57,"x":[903,937,903,869],"y":[1089,1082,1064,1070]},
{"b":41.75,"c":1.55,"v":8.75,"x":[869,903,869,835],"y":[1070,1064,1046,1051]},
{"b":41.75,"c":1.65,"v":8.93,"x":[835,869,835,801],"y":[1051,1046,1026,1030]},
{"b":41.75,"c":1.75,"v":9.12,"x":[801,835,801,767],"y":[1030,1026,1006,1010]},
{"b":41.75,"c":1.85,"v":9.32,"x":[767,801,767,732],"y":[1010,1006,985,988]},
{"b":41.75,"c":1.95,"v":9.54,"x":[732,767,732,698],"y":[988,985,964,966]},
{"b":41.75,"c":2.05,"v":9.76,"x":[698,732,698,664],"y":[966,964,943,944]},
{"b":41.75,"c":2.15,"v":9.99,"x":[664,698,664,630],"y":[944,943,921,922]},
{"b":41.75,"c":2.25,"v":10.23,"x":[630,664,630,595],"y":[922,921,900,899]},
{"b":41.75,"c":2.35,"v":10.49,"x":[595,630,595,561],"y":[899,900,877,876]},
{"b":41.75,"c":2.45,"v":10.75,"x":[561,595,561,526],"y":[876,877,855,853]},
{"b":41.75,"c":2.55,"v":11.02,"x":[526,561,526,492],"y":[853,855,832,829]},
{"b":41.75,"c":2.65,"v":11.3,"x":[492,526,492,457],"y":[829,832,810,805]},
{"b":41.75,"c":2.75,"v":11.59,"x":[457,492,457,422],"y":[805,810,786,781]},
{"b":41.75,"c":2.85,"v":11.9,"x":[422,457,422,388],"y":[781,786,763,757]},
{"b":41.75,"c":2.95,"v":12.21,"x":[388,422,388,353],"y":[757,763,739,733]},
{"b":41.05,"c":1.05,"v":8.13,"x":[1005,1039,1005,971],"y":[1167,1158,1142,1150]},
{"b":41.05,"c":1.15,"v":8.28,"x":[971,1005,971,937],"y":[1150,1142,1125,1133]},
{"b":41.05,"c":1.25,"v":8.44,"x":[937,971,937,903],"y":[1133,1125,1107,1115]},
{"b":41.05,"c":1.35,"v":8.62,"x":[903,937,903,869],"y":[1115,1107,1089,1096]},
{"b":41.05,"c":1.45,"v":8.8,"x":[869,903,869,835],"y":[1096,1089,1070,1076]},
{"b":41.05,"c":1.55,"v":8.99,"x":[835,869,835,801],"y":[1076,1070,1051,1056]},
{"b":41.05,"c":1.65,"v":9.19,"x":[801,835,801,767],"y":[1056,1051,1030,1035]},
{"b":41.05,"c":1.75,"v":9.4,"x":[767,801,767,732],"y":[1035,1030,1010,1013]},
{"b":41.05,"c":1.85,"v":9.62,"x":[732,767,732,698],"y":[1013,1010,988,991]},
{"b":41.05,"c":1.95,"v":9.85,"x":[698,732,698,664],"y":[991,988,966,968]},
{"b":41.05,"c":2.05,"v":10.1,"x":[664,698,664,630],"y":[968,966,944,945]},
{"b":41.05,"c":2.15,"v":10.35,"x":[630,664,630,595],"y":[945,944,922,922]},
{"b":41.05,"c":2.25,"v":10.61,"x":[595,630,595,561],"y":[922,922,899,898]},
{"b":41.05,"c":2.35,"v":10.88,"x":[561,595,561,526],"y":[898,899,876,874]},
{"b":41.05,"c":2.45,"v":11.16,"x":[526,561,526,492],"y":[874,876,853,850]},
{"b":41.05,"c":2.55,"v":11.45,"x":[492,526,492,457],"y":[850,853,829,826]},
{"b":41.05,"c":2.65,"v":11.76,"x":[457,492,457,422],"y":[826,829,805,801]},
{"b":41.05,"c":2.75,"v":12.07,"x":[422,457,422,388],"y":[801,805,781,776]},
{"b":41.05,"c":2.85,"v":12.39,"x":[388,422,388,353],"y":[776,781,757,751]},
{"b":41.05,"c":2.95,"v":12.72,"x":[353,388,353,318],"y":[751,757,733,726]},
{"b":40.35,"c":1.05,"v":8.29,"x":[971,1005,971,937],"y":[1175,1167,1150,1158]},
{"b":40.35,"c":1.15,"v":8.46,"x":[937,971,937,903],"y":[1158,1150,1133,1140]},
{"b":40.35,"c":1.25,"v":8.64,"x":[903,937,903,869],"y":[1140,1133,1115,1121]},
{"b":40.35,"c":1.35,"v":8.83,"x":[869,903,869,835],"y":[1121,1115,1096,1101]},
{"b":40.35,"c":1.45,"v":9.03,"x":[835,869,835,801],"y":[1101,1096,1076,1081]},
{"b":40.35,"c":1.55,"v":9.24,"x":[801,835,801,767],"y":[1081,1076,1056,1060]},
{"b":40.35,"c":1.65,"v":9.46,"x":[767,801,767,732],"y":[1060,1056,1035,1038]},
{"b":40.35,"c":1.75,"v":9.69,"x":[732,767,732,698],"y":[1038,1035,1013,1016]},
{"b":40.35,"c":1.85,"v":9.94,"x":[698,732,698,664],"y":[1016,1013,991,993]},
{"b":40.35,"c":1.95,"v":10.19,"x":[664,698,664,630],"y":[993,991,968,969]},
{"b":40.35,"c":2.05,"v":10.45,"x":[630,664,630,595],"y":[969,968,945,945]},
{"b":40.35,"c":2.15,"v":10.72,"x":[595,630,595,561],"y":[945,945,922,921]},
{"b":40.35,"c":2.25,"v":11.0,"x":[561,595,561,526],"y":[921,922,898,896]},
{"b":40.35,"c":2.35,"v":11.29,"x":[526,561,526,492],"y":[896,898,874,872]},
{"b":40.35,"c":2.45,"v":11.59,"x":[492,526,492,457],"y":[872,874,850,846]},
{"b":40.35,"c":2.55,"v":11.9,"x":[457,492,457,422],"y":[846,850,826,821]},
{"b":40.35,"c":2.65,"v":12.22,"x":[422,457,422,388],"y":[821,826,801,796]},
{"b":40.35,"c":2.75,"v":12.55,"x":[388,422,388,353],"y":[796,801,776,770]},
{"b":40.35,"c":2.85,"v":12.89,"x":[353,388,353,318],"y":[770,776,751,744]},
{"b":40.35,"c":2.95,"v":13.25,"x":[318,353,318,283],"y":[744,751,726,718]}
],
"edge":[{"x":971,"y":1175},{"x":937,"y":1158},{"x":903,"y":1140},{"x":869,"y":1121},{"x":835,"y":1101},{"x":801,"y":1081},{"x":767,"y":1060},{"x":732,"y":1038},{"x":698,"y":1016},{"x":664,"y":993},{"x":630,"y":969},{"x":595,"y":945},{"x":561,"y":921},{"x":526,"y":896},{"x":492,"y":872},{"x":457,"y":846},{"x":422,"y":821},{"x":388,"y":796},{"x":353,"y":770},{"x":318,"y":744},{"x":283,"y":718}],
"lines":[{"x":263,"y":312,"x2":972,"y2":154},{"x":271,"y":487,"x2":972,"y2":310},{"x":280,"y":661,"x2":972,"y2":467},{"x":287,"y":834,"x2":972,"y2":623},{"x":296,"y":1008,"x2":972,"y2":780},{"x":972,"y":154,"x2":1680,"y2":314},{"x":972,"y":310,"x2":1672,"y2":488},{"x":972,"y":467,"x2":1664,"y2":661},{"x":972,"y":623,"x2":1655,"y2":834},{"x":972,"y":780,"x2":1647,"y2":1008},{"x":263,"y":312,"x2":307,"y2":1224},{"x":1680,"y":314,"x2":1635,"y2":1224},{"x":972,"y":154,"x2":972,"y2":975},{"x":619,"y":234,"x2":633,"y2":800},{"x":1326,"y":234,"x2":1309,"y2":880}],
"stems":[{"x":970,"y":709,"x2":972,"y2":767},{"x":970,"y":899,"x2":970,"y2":925},{"x":1654,"y":829,"x2":1651,"y2":912}],
"lab2":[{"b":41.07,"c":2.794,"t":"12"},{"b":42.76,"c":2.45,"t":"10"}],
"lab1":[{"b":45.59,"c":1.98,"t":"8"},{"b":52.6,"c":2.47,"t":"6"}]},
"hconcat":[
{"width":2000,"height":1253,"layer":[
{"data":{"values":[{"x":0,"y":0,"x2":0,"y2":1656}]},"mark":{"type":"rule","opacity":0},"encoding":{"x":{"field":"x","type":"quantitative","scale":{"domain":[0,2000],"nice":false},"axis":null},"y":{"field":"y","type":"quantitative","scale":{"domain":[1367,114],"nice":false},"axis":null},"x2":{"field":"x2"},"y2":{"field":"y2"}}},
{"data":{"name":"lines"},"mark":{"type":"rule","color":"#000","strokeWidth":2.5},"encoding":{"x":{"field":"x","type":"quantitative"},"y":{"field":"y","type":"quantitative"},"x2":{"field":"x2"},"y2":{"field":"y2"}}},
{"data":{"values":[{"x":307,"y":1224},{"x":971,"y":1543},{"x":1635,"y":1224},{"x":972,"y":975},{"x":307,"y":1224}]},"mark":{"type":"line","fill":"#808080","stroke":"#000","strokeWidth":2.5},"encoding":{"x":{"field":"x","type":"quantitative"},"y":{"field":"y","type":"quantitative"},"order":{"value":null}}},
{"data":{"values":[{"g":12,"x":424,"y":1182},{"g":12,"x":438,"y":1238},{"g":12,"x":450,"y":1295},{"g":10,"x":570,"y":1127},{"g":10,"x":610,"y":1217},{"g":10,"x":651,"y":1320},{"g":10,"x":682,"y":1405},{"g":8,"x":728,"y":1066},{"g":8,"x":820,"y":1155},{"g":8,"x":912,"y":1251},{"g":8,"x":1004,"y":1355},{"g":8,"x":1050,"y":1415},{"g":8,"x":1090,"y":1489}]},"mark":{"type":"line","strokeWidth":2.5,"interpolate":"catmull-rom"},"encoding":{"x":{"field":"x","type":"quantitative"},"y":{"field":"y","type":"quantitative"},"detail":{"field":"g"},"order":{"value":null},"stroke":{"field":"g","type":"quantitative","scale":{"domain":[5.4,9.55,13.7],"range":["#0000ff","#00ffff","#00ff00"]},"legend":null}}},
{"data":{"values":[{"x":971,"y":1173,"x2":971,"y2":1251},{"x":284,"y":717,"x2":287,"y2":806}]},"mark":{"type":"rule","color":"#000","strokeWidth":2.5},"encoding":{"x":{"field":"x","type":"quantitative"},"y":{"field":"y","type":"quantitative"},"x2":{"field":"x2"},"y2":{"field":"y2"}}},
{"data":{"values":[{"x":971,"y":1251},{"x":287,"y":806}]},"mark":{"type":"point","filled":true,"fill":"#d98080","stroke":"#000","strokeWidth":2.5,"size":530,"opacity":1},"encoding":{"x":{"field":"x","type":"quantitative"},"y":{"field":"y","type":"quantitative"}}},
{"data":{"values":[{"x":263,"y":312},{"x":271,"y":487},{"x":280,"y":661},{"x":287,"y":834},{"x":296,"y":1008},{"x":307,"y":1224},{"x":1635,"y":1224},{"x":639,"y":1383},{"x":1302,"y":1383},{"x":971,"y":1543}]},"mark":{"type":"point","filled":true,"color":"#000","size":80,"opacity":1},"encoding":{"x":{"field":"x","type":"quantitative"},"y":{"field":"y","type":"quantitative"}}},
{"data":{"name":"cells"},"transform":[{"flatten":["x","y"]}],"mark":{"type":"line","filled":true,"stroke":"#000","strokeWidth":2.5},"encoding":{"x":{"field":"x","type":"quantitative"},"y":{"field":"y","type":"quantitative"},"detail":[{"field":"b"},{"field":"c"}],"order":{"value":null},"fill":{"field":"v","type":"quantitative","scale":{"domain":[5.4,9.55,13.7],"range":["#0000ff","#00ffff","#00ff00"]},"legend":null}}},
{"data":{"name":"edge"},"mark":{"type":"line","color":"#000","strokeWidth":2.5},"encoding":{"x":{"field":"x","type":"quantitative"},"y":{"field":"y","type":"quantitative"},"order":{"value":null}}},
{"data":{"name":"stems"},"mark":{"type":"rule","color":"#000","strokeWidth":2.5},"encoding":{"x":{"field":"x","type":"quantitative"},"y":{"field":"y","type":"quantitative"},"x2":{"field":"x2"},"y2":{"field":"y2"}}},
{"data":{"name":"stems"},"mark":{"type":"point","filled":true,"fill":"#b00000","stroke":"#000","strokeWidth":2.5,"size":530,"opacity":1},"encoding":{"x":{"field":"x","type":"quantitative"},"y":{"field":"y","type":"quantitative"}}},
{"data":{"values":[{"t":"25","x":214,"y":290},{"t":"20","x":222,"y":464},{"t":"15","x":231,"y":636},{"t":"10","x":239,"y":809},{"t":"5","x":259,"y":986},{"t":"3","x":269,"y":1251},{"t":"2","x":602,"y":1410},{"t":"1","x":935,"y":1571},{"t":"40","x":1023,"y":1569},{"t":"47","x":1356,"y":1410},{"t":"54","x":1688,"y":1251}]},"mark":{"type":"text","fontSize":43,"baseline":"middle","align":"center"},"encoding":{"x":{"field":"x","type":"quantitative"},"y":{"field":"y","type":"quantitative"},"text":{"field":"t"}}},
{"data":{"values":[{"t":"C: Number of Pins","x":384,"y":1510},{"t":"B: Pulling speed (cm/min)","x":1560,"y":1514}]},"mark":{"type":"text","fontSize":62,"baseline":"middle","align":"center"},"encoding":{"x":{"field":"x","type":"quantitative"},"y":{"field":"y","type":"quantitative"},"text":{"field":"t"}}},
{"data":{"values":[{"t":"IFSS (MPa)","x":56,"y":750}]},"mark":{"type":"text","fontSize":78,"baseline":"middle","align":"center","angle":270},"encoding":{"x":{"field":"x","type":"quantitative"},"y":{"field":"y","type":"quantitative"},"text":{"field":"t"}}}
]},
{"width":1254,"height":1253,"view":{"stroke":"#000","strokeWidth":4},
"encoding":{"x":{"field":"b","type":"quantitative","scale":{"domain":[40,54],"nice":false},"axis":{"values":[40,47,54],"format":"d","grid":false,"domain":false,"tickSize":39,"tickWidth":2,"tickColor":"#000","labelColor":"#000","labelFontSize":37,"labelPadding":15,"title":"B: Pulling speed (cm/min)","titleFontSize":52,"titleFontWeight":"normal","titleColor":"#000","titleY":253,"titleX":623,"titleBaseline":"alphabetic","labelFlush":false}},
"y":{"field":"c","type":"quantitative","scale":{"domain":[1,3],"nice":false},"axis":{"values":[1,2,3],"format":"d","grid":false,"domain":false,"tickSize":36,"tickWidth":2.5,"tickColor":"#000","labelColor":"#000","labelFontSize":37,"labelPadding":11,"title":"C: Number of Pins","titleFontSize":52,"titleFontWeight":"normal","titleColor":"#000","titleX":-217,"titleY":623,"titleBaseline":"alphabetic","labelFlush":false}}},
"layer":[
{"data":{"name":"cells"},"mark":{"type":"rect","width":63.5,"height":63.5,"clip":true},"encoding":{"fill":{"field":"v","type":"quantitative","scale":{"domain":[5.4,9.55,13.7],"range":["#0000ff","#00ffff","#00ff00"]},"legend":null}}},
{"data":{"name":"cells"},"mark":{"type":"rect","width":100,"height":100,"clip":true,"opacity":0.5},"encoding":{"fill":{"field":"v","type":"quantitative","scale":{"domain":[5.4,9.55,13.7],"range":["#0000ff","#00ffff","#00ff00"]},"legend":null}}},
{"data":{"values":[{"g":12,"b":40,"c":2.536},{"g":12,"b":40.55,"c":2.645},{"g":12,"b":41.09,"c":2.756},{"g":12,"b":41.4,"c":2.82},{"g":12,"b":42.2,"c":3},
{"g":10,"b":40,"c":1.81},{"g":10,"b":40.7,"c":1.955},{"g":10,"b":41.4,"c":2.1},{"g":10,"b":42.1,"c":2.26},{"g":10,"b":42.76,"c":2.41},{"g":10,"b":43.09,"c":2.484},{"g":10,"b":43.99,"c":2.7},{"g":10,"b":45.13,"c":3},
{"g":8,"b":42.2,"c":1},{"g":8,"b":42.85,"c":1.2},{"g":8,"b":43.5,"c":1.37},{"g":8,"b":44.2,"c":1.56},{"g":8,"b":44.9,"c":1.76},{"g":8,"b":45.59,"c":1.97},{"g":8,"b":46.3,"c":2.17},{"g":8,"b":47,"c":2.39},{"g":8,"b":47.7,"c":2.63},{"g":8,"b":48.53,"c":3},
{"g":6,"b":52.57,"c":3},{"g":6,"b":52.47,"c":2.75},{"g":6,"b":52.6,"c":2.47},{"g":6,"b":52.8,"c":2.34},{"g":6,"b":53.05,"c":2.25},{"g":6,"b":53.42,"c":2.14},{"g":6,"b":54,"c":2.05}]},"mark":{"type":"line","color":"#000","strokeWidth":2.5,"interpolate":"catmull-rom"},"encoding":{"detail":{"field":"g"},"order":{"value":null}}},
{"data":{"name":"lab2"},"mark":{"type":"rect","width":54,"height":44,"fill":"#fff","stroke":"#000","strokeWidth":2.5}},
{"data":{"name":"lab1"},"mark":{"type":"rect","width":34,"height":44,"fill":"#fff","stroke":"#000","strokeWidth":2.5}},
{"data":{"name":"lab2"},"mark":{"type":"text","fontSize":38,"baseline":"middle"},"encoding":{"text":{"field":"t"}}},
{"data":{"name":"lab1"},"mark":{"type":"text","fontSize":38,"baseline":"middle"},"encoding":{"text":{"field":"t"}}},
{"data":{"values":[{"b":40,"c":1},{"b":54,"c":1},{"b":40,"c":3},{"b":54,"c":3},{"b":47,"c":2}]},"mark":{"type":"point","filled":true,"fill":"#b00000","stroke":"#000","strokeWidth":2.5,"size":530,"opacity":1,"clip":false}},
{"data":{"values":[{"b":46.6,"c":2.01,"t":"3"}]},"mark":{"type":"text","fontSize":40,"baseline":"middle"},"encoding":{"text":{"field":"t"}}},
{"data":{"values":[{"b":47,"c":3.056,"t":"IFSS (MPa)"}]},"mark":{"type":"text","fontSize":73,"baseline":"alphabetic","align":"center"},"encoding":{"text":{"field":"t"}}}
]}
]}
